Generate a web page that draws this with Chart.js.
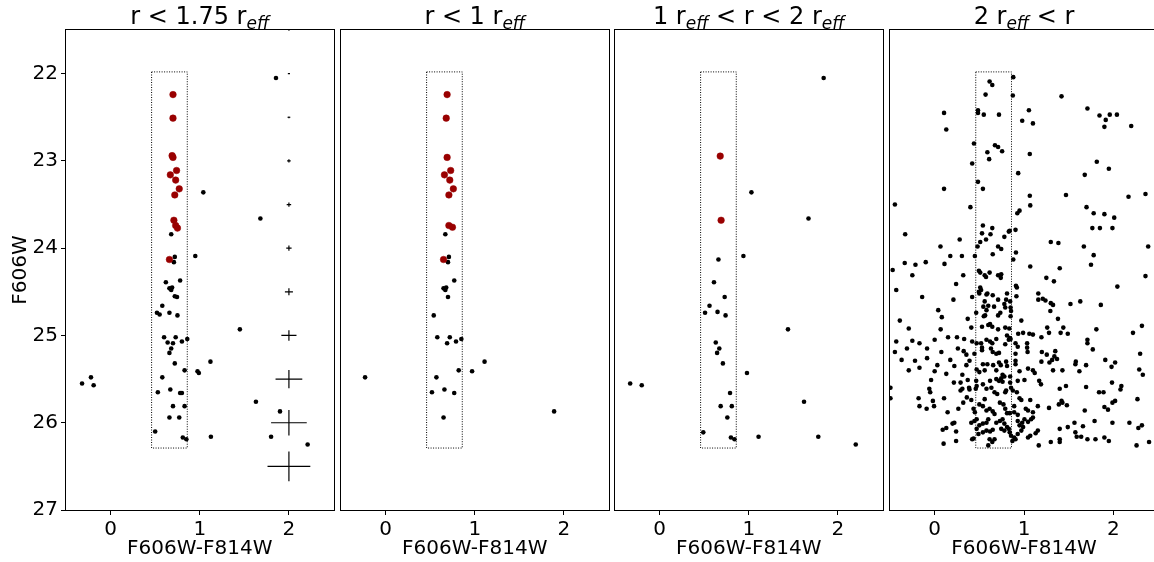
<!DOCTYPE html>
<html><head><meta charset="utf-8">
<script src="https://cdn.jsdelivr.net/npm/chart.js@4.4.1/dist/chart.umd.min.js"></script>
<style>
html,body{margin:0;padding:0;background:#fff;width:1154px;height:562px;overflow:hidden;position:relative}
canvas{position:absolute;top:0}
</style></head><body>
<script>
// ---------- data ----------
const xTicks = [0, 1, 2];
const yTicks = [22, 23, 24, 25, 26, 27];
const xLabel = 'F606W-F814W';
const yLabel = 'F606W';
const titles = [
  [['r < 1.75 r', 0], ['eff', 1]],
  [['r < 1 r', 0], ['eff', 1]],
  [['1 r', 0], ['eff', 1], [' < r < 2 r', 0], ['eff', 1]],
  [['2 r', 0], ['eff', 1], [' < r', 0]]
];
// selection box (colour range, magnitude range)
const boxX = [0.46, 0.86];
const boxY = [21.98, 26.29];
// representative error bars (panel 1, x = 2)
const errX0 = 2;
const errY  = [21.5, 22, 22.5, 23, 23.5, 24, 24.5, 25, 25.5, 26, 26.5];
const errDX = [0.01, 0.012, 0.016, 0.02, 0.025, 0.03, 0.045, 0.085, 0.15, 0.2, 0.24];
const errDY = [0.005, 0.006, 0.01, 0.018, 0.024, 0.03, 0.04, 0.06, 0.105, 0.145, 0.17];

const p1Red = [[0.70,22.24],[0.70,22.51],[0.69,22.94],[0.70,22.96],[0.74,23.11],[0.67,23.16],[0.73,23.22],[0.77,23.32],[0.72,23.39],[0.71,23.68],[0.73,23.74],[0.75,23.77],[0.66,24.13]];
const p1Black = [[1.855,22.05],[1.04,23.36],[1.68,23.66],[0.68,23.84],[0.95,24.09],[0.72,24.10],[0.71,24.16],
 [0.78,24.37],[0.62,24.39],[0.66,24.46],[0.69,24.45],[0.68,24.48],[0.72,24.55],[0.745,24.56],[0.58,24.66],[0.52,24.74],[0.55,24.76],[0.66,24.74],[0.75,24.77],[1.45,24.93],[0.60,25.02],[0.73,25.02],[0.86,25.04],[0.80,25.07],[0.64,25.08],[0.70,25.09],[0.68,25.15],[0.66,25.20],[1.12,25.30],[0.72,25.32],[0.83,25.40],[0.975,25.41],[0.99,25.43],[0.58,25.48],[-0.22,25.48],[-0.32,25.55],[-0.19,25.57],[0.53,25.65],[0.67,25.62],[0.78,25.66],[0.80,25.66],[1.63,25.76],[0.70,25.81],[0.83,25.81],[1.90,25.87],[0.66,25.94],[0.77,25.94],[0.50,26.10],[1.125,26.16],[1.80,26.16],[0.81,26.17],[0.85,26.19],[2.21,26.25]];

const p2Red = [[0.69,22.24],[0.68,22.51],[0.69,22.96],[0.73,23.11],[0.66,23.16],[0.72,23.22],[0.76,23.32],[0.71,23.39],[0.71,23.74],[0.75,23.76],[0.65,24.13]];
const p2Black = [[0.67,23.84],[0.71,24.10],[0.70,24.16],[0.77,24.37],[0.65,24.46],[0.68,24.45],[0.67,24.48],[0.70,24.56],[0.54,24.77],[0.58,25.02],[0.72,25.02],[0.85,25.04],[0.79,25.07],[0.69,25.09],[1.11,25.30],[0.82,25.40],[0.97,25.41],[-0.23,25.48],[0.57,25.48],[0.52,25.65],[0.66,25.62],[0.77,25.66],[1.89,25.87],[0.65,25.94]];

const p3Red = [[0.68,22.945],[0.69,23.68]];
const p3Black = [[1.84,22.05],[1.03,23.36],[1.67,23.66],[0.94,24.09],[0.66,24.13],[0.61,24.39],[0.73,24.56],[0.56,24.66],[0.51,24.74],[0.65,24.73],[0.74,24.77],[1.44,24.93],[0.63,25.08],[0.67,25.15],[0.645,25.20],[0.71,25.32],[0.98,25.43],[-0.33,25.55],[-0.20,25.57],[0.79,25.66],[1.62,25.76],[0.685,25.81],[0.81,25.81],[0.76,25.94],[0.49,26.11],[1.11,26.16],[1.78,26.16],[0.80,26.17],[0.84,26.19],[2.20,26.25]];

const p4Black = [
 [0.88,22.04],[0.615,22.09],[0.645,22.13],[0.57,22.24],[0.875,22.25],[1.42,22.26],[0.105,22.45],[0.485,22.42],[0.485,22.45],[0.55,22.47],[0.72,22.47],[1.055,22.42],[1.71,22.40],[1.845,22.48],[1.96,22.47],[2.04,22.47],[1.915,22.53],[1.90,22.61],[2.20,22.60],[0.98,22.54],[1.10,22.57],[0.13,22.64],[0.44,22.80],[0.675,22.82],[0.71,22.84],[0.755,22.89],[0.59,22.90],[1.065,22.92],[0.61,22.98],[0.42,23.03],[1.815,23.01],[1.95,23.09],[0.935,23.14],[1.68,23.16],[0.485,23.24],[0.105,23.32],[0.54,23.32],[1.065,23.40],[1.47,23.39],[2.17,23.41],[2.36,23.38],[-0.445,23.50],[0.40,23.53],[1.07,23.51],[1.70,23.53],
 [0.95,23.57],[0.925,23.60],[1.78,23.60],[1.90,23.61],[2.01,23.65],[0.54,23.74],[0.645,23.77],[1.765,23.77],[1.85,23.77],[1.99,23.77],[0.905,23.79],[0.84,23.80],[0.83,23.81],[-0.33,23.84],[0.53,23.83],[0.625,23.84],[0.78,23.87],[0.575,23.90],[0.28,23.90],[0.51,23.93],[1.30,23.93],[1.385,23.94],[2.39,23.98],[1.67,23.98],[0.065,23.98],[0.48,23.98],[0.71,23.98],[0.745,24.01],[0.65,24.07],[0.91,24.05],[1.78,24.08],[0.175,24.09],[0.305,24.09],[0.45,24.09],[0.88,24.13],[-0.335,24.17],[-0.215,24.19],[-0.10,24.16],[0.11,24.18],[1.75,24.19],[1.07,24.21],[1.40,24.23],[-0.47,24.25],[-0.25,24.31],[0.32,24.31],[0.495,24.26],[0.51,24.28],[0.56,24.31],[0.575,24.33],[0.615,24.28],[0.71,24.31],[0.745,24.30],[0.74,24.34],[1.25,24.34],[2.36,24.32],
 [1.335,24.38],[0.24,24.41],[0.91,24.43],[0.92,24.45],[2.045,24.44],[-0.43,24.48],[0.51,24.45],[0.495,24.50],[0.52,24.48],[0.58,24.53],[0.59,24.52],[0.50,24.52],[0.65,24.54],[0.81,24.52],[1.16,24.52],[-0.14,24.56],[0.42,24.56],[0.915,24.55],[0.21,24.59],[0.71,24.59],[0.80,24.59],[0.56,24.61],[1.16,24.59],[1.21,24.58],[1.24,24.60],[1.30,24.63],[1.325,24.65],[1.63,24.61],[1.52,24.64],[1.86,24.65],[0.845,24.61],[0.78,24.64],[0.79,24.68],[0.665,24.67],[0.545,24.67],[0.60,24.66],[0.58,24.71],[0.85,24.68],[0.855,24.72],[0.04,24.71],[1.295,24.72],[0.465,24.74],[0.735,24.74],[0.71,24.77],[0.565,24.77],[0.55,24.78],[0.08,24.79],[0.85,24.78],[0.37,24.81],[0.97,24.83],[1.38,24.81],[-0.39,24.83],[-0.29,24.92],[0.067,24.93],[0.41,24.91],[0.53,24.90],[0.60,24.88],[0.62,24.87],[0.645,24.90],[0.71,24.93],[0.79,24.91],[0.835,24.92],[1.26,24.91],[1.44,24.91],[1.81,24.93],[2.32,24.89],
 [1.41,24.97],[1.49,24.98],[2.22,24.97],[0.935,24.98],[0.99,24.97],[1.06,24.98],[1.10,24.99],[0.81,25.00],[0.84,25.03],[0.83,25.05],[0.85,25.04],[1.195,25.02],[1.28,24.97],[0.15,25.02],[0.25,25.02],[0.33,25.04],[0.00,25.05],[-0.25,25.06],[-0.43,25.07],[-0.17,25.09],[0.42,25.07],[0.47,25.09],[0.52,25.09],[0.58,25.05],[0.62,25.07],[0.645,25.09],[0.69,25.04],[0.53,25.14],[0.53,25.17],[0.63,25.15],[0.79,25.10],[0.905,25.09],[0.93,25.13],[1.035,25.09],[1.035,25.14],[1.04,25.19],[1.71,25.05],[1.71,25.09],[-0.31,25.15],[-0.085,25.15],[0.26,25.15],[-0.445,25.19],[0.075,25.19],[0.325,25.18],[0.355,25.22],[0.65,25.19],[0.69,25.21],[0.72,25.20],[0.445,25.21],[0.905,25.21],[1.20,25.19],[1.255,25.22],[1.35,25.18],[1.34,25.24],[1.37,25.27],[1.77,25.16],[2.30,25.21],[-0.37,25.28],[-0.22,25.29],[-0.085,25.26],[0.175,25.28],[0.39,25.29],[0.03,25.34],[-0.17,25.37],[0.22,25.35],[0.355,25.34],[0.54,25.33],[0.59,25.33],[0.655,25.34],[0.72,25.31],[0.74,25.34],[0.80,25.30],[0.81,25.35],[0.905,25.29],[0.905,25.33],[1.195,25.30],[1.285,25.31],[1.315,25.28],[1.58,25.30],[1.575,25.33],[1.695,25.34],[1.91,25.28],[2.02,25.31],[2.29,25.39],[-0.29,25.40],[0.00,25.41],[0.13,25.44],[0.31,25.45],[0.47,25.39],[0.50,25.42],[0.56,25.40],[0.69,25.40],[0.76,25.45],[0.78,25.47],[0.845,25.47],[0.95,25.41],[1.045,25.38],[1.10,25.40],[1.12,25.43],[1.325,25.40],[1.43,25.40],[1.62,25.41],[1.98,25.36],[2.33,25.45],
 [-0.495,25.60],[-0.495,25.72],[-0.04,25.51],[-0.06,25.61],[-0.05,25.65],[0.215,25.54],[0.29,25.54],[0.31,25.61],[0.29,25.63],[0.37,25.51],[0.385,25.60],[0.39,25.62],[0.465,25.52],[0.47,25.58],[0.46,25.61],[0.54,25.56],[0.58,25.61],[0.62,25.52],[0.635,25.60],[0.69,25.50],[0.72,25.52],[0.745,25.49],[0.76,25.53],[0.67,25.65],[0.70,25.67],[0.79,25.65],[0.80,25.63],[0.845,25.54],[0.855,25.60],[0.875,25.63],[0.92,25.65],[0.93,25.52],[1.005,25.51],[1.17,25.52],[1.19,25.56],[1.40,25.61],[1.47,25.58],[1.695,25.59],[1.84,25.65],[1.89,25.65],[1.985,25.54],[2.09,25.58],[2.08,25.62],[-0.18,25.72],[-0.02,25.75],[0.105,25.72],[-0.17,25.81],[-0.09,25.84],[-0.007,25.81],[0.145,25.88],[0.265,25.84],[0.32,25.77],[0.36,25.71],[0.41,25.74],[0.435,25.84],[0.45,25.88],[0.50,25.79],[0.54,25.81],[0.56,25.73],[0.58,25.86],[0.615,25.84],[0.65,25.87],[0.67,25.90],[0.73,25.77],[0.77,25.79],[0.79,25.84],[0.81,25.89],[0.84,25.89],[0.89,25.88],[0.93,25.91],[0.95,25.72],[0.97,25.74],[0.89,25.81],[1.02,25.84],[1.045,25.86],[1.10,25.88],[1.07,25.74],[1.155,25.81],[1.28,25.83],[1.39,25.79],[1.42,25.75],[1.43,25.77],[1.48,25.80],[1.68,25.86],[1.90,25.82],[1.94,25.85],[1.99,25.77],[2.02,25.75],[2.27,25.73],
 [0.09,26.08],[0.13,26.06],[0.22,26.00],[0.20,26.01],[0.24,26.10],[0.10,26.24],[0.24,26.21],[0.42,26.19],[0.435,26.18],[0.41,26.00],[0.445,25.98],[0.47,25.96],[0.47,26.07],[0.50,26.03],[0.54,26.01],[0.58,26.00],[0.60,25.96],[0.49,26.13],[0.54,26.11],[0.58,26.09],[0.62,26.10],[0.65,26.08],[0.615,26.19],[0.645,26.22],[0.60,26.26],[0.67,26.19],[0.69,26.00],[0.73,25.98],[0.76,25.96],[0.78,26.01],[0.745,26.07],[0.78,26.09],[0.81,26.05],[0.83,26.07],[0.84,26.11],[0.855,26.15],[0.89,26.17],[0.87,26.21],[0.905,26.19],[0.93,26.13],[0.97,26.09],[0.99,26.05],[0.95,26.03],[0.93,25.98],[0.98,26.00],[1.005,25.96],[1.045,25.99],[1.08,25.96],[1.10,25.94],[1.045,26.17],[1.07,26.15],[1.13,26.12],[1.155,26.09],[1.165,26.26],[1.30,26.22],[1.40,26.07],[1.40,26.19],[1.40,26.22],[1.49,26.05],[1.565,26.00],[1.575,26.11],[1.59,26.16],[1.66,26.04],[1.64,26.16],[1.71,26.19],[1.79,25.98],[1.80,26.19],[1.90,26.17],[1.95,26.21],[1.99,26.00],[2.18,26.00],[2.28,26.06],[2.32,26.03],[2.26,26.26],[2.40,26.22]
];
const p4Red = [];

const panelBlack = [p1Black, p2Black, p3Black, p4Black];
const panelRed = [p1Red, p2Red, p3Red, p4Red];
const panelErr = [true, false, false, false];

// ---------- layout / style ----------
const PANEL_LEFT = [66, 341, 615, 890];
const AXIS_W = 66, AREA_W = 268, RIGHT_PAD = 4, TOP = 30, XAXIS_H = 52, H = 562;
const FONT = '"DejaVu Sans", sans-serif';

const toPts = arr => arr.map(p => ({x: p[0], y: p[1]}));

function boxData() {
  return [
    {x: boxX[0], y: boxY[0]}, {x: boxX[1], y: boxY[0]},
    {x: boxX[1], y: boxY[1]}, {x: boxX[0], y: boxY[1]},
    {x: boxX[0], y: boxY[0]}
  ];
}
function errData() {
  const d = [];
  errY.forEach((y, i) => {
    d.push({x: errX0 - errDX[i], y: y}, {x: errX0 + errDX[i], y: y}, {x: errX0, y: null});
    d.push({x: errX0, y: y - errDY[i]}, {x: errX0, y: y + errDY[i]}, {x: errX0, y: null});
  });
  return d;
}

const framePlugin = {
  id: 'frame',
  afterDatasetsDraw(chart) {
    const a = chart.chartArea, ctx = chart.ctx;
    ctx.save();
    ctx.strokeStyle = '#000';
    ctx.lineWidth = 1;
    ctx.strokeRect(Math.round(a.left) - 0.5, Math.round(a.top) - 0.5,
                   Math.round(a.right) - Math.round(a.left) + 1, Math.round(a.bottom) - Math.round(a.top) + 1);
    ctx.restore();
  }
};

const titlePlugin = {
  id: 'ptitle',
  afterDraw(chart, args, opts) {
    const segs = opts.segs || [];
    const ctx = chart.ctx, a = chart.chartArea;
    const big = '24px ' + FONT, small = 'italic 17px ' + FONT;
    ctx.save();
    let total = 0;
    segs.forEach(s => { ctx.font = s[1] ? small : big; total += ctx.measureText(s[0]).width; });
    let x = (a.left + a.right) / 2 - total / 2;
    const base = 24;
    ctx.fillStyle = '#000';
    ctx.textBaseline = 'alphabetic';
    ctx.textAlign = 'left';
    segs.forEach(s => {
      ctx.font = s[1] ? small : big;
      ctx.fillText(s[0], x, s[1] ? base + 5 : base);
      x += ctx.measureText(s[0]).width;
    });
    ctx.restore();
  }
};

for (let i = 0; i < 4; i++) {
  const cv = document.createElement('canvas');
  const W = AXIS_W + AREA_W + RIGHT_PAD;
  cv.width = W; cv.height = H;
  cv.style.left = (PANEL_LEFT[i] - AXIS_W) + 'px';
  cv.style.width = W + 'px'; cv.style.height = H + 'px';
  document.body.appendChild(cv);

  const datasets = [
    {data: boxData(), showLine: true, borderColor: '#000', borderWidth: 1, borderDash: [1, 1.5],
     pointRadius: 0, fill: false, tension: 0, order: 4}
  ];
  if (panelErr[i]) {
    datasets.push({data: errData(), showLine: true, spanGaps: false, borderColor: '#000', borderWidth: 1.2,
      pointRadius: 0, fill: false, tension: 0, order: 3});
  }
  datasets.push({data: toPts(panelBlack[i]), backgroundColor: '#000', borderWidth: 0, pointRadius: 2.3, order: 2});
  datasets.push({data: toPts(panelRed[i]), backgroundColor: '#990000', borderColor: '#990000', borderWidth: 0.5, pointRadius: 3.3, order: 1});

  const tickFont = {family: FONT, size: 20};
  new Chart(cv, {
    type: 'scatter',
    data: {datasets},
    options: {
      responsive: false,
      animation: false,
      devicePixelRatio: 1,
      events: [],
      layout: {padding: {top: TOP, left: 0, right: RIGHT_PAD, bottom: 0}},
      plugins: {legend: {display: false}, tooltip: {enabled: false}, title: {display: false},
                ptitle: {segs: titles[i]}},
      scales: {
        x: {
          type: 'linear', min: -0.5, max: 2.5,
          afterBuildTicks: s => { s.ticks = xTicks.map(v => ({value: v})); },
          afterFit: s => { s.height = XAXIS_H; },
          grid: {display: true, drawOnChartArea: false, drawTicks: true, tickLength: 5, color: '#000', lineWidth: 1},
          border: {display: false},
          ticks: {color: '#000', font: tickFont, padding: 3, maxRotation: 0, autoSkip: false, callback: v => String(v)},
          title: {display: true, text: xLabel, color: '#000', font: tickFont, padding: {top: 0, bottom: 1}}
        },
        y: {
          type: 'linear', min: 21.5, max: 27, reverse: true, display: i === 0,
          afterBuildTicks: s => { s.ticks = yTicks.map(v => ({value: v})); },
          afterFit: s => { s.width = AXIS_W; },
          grid: {display: true, drawOnChartArea: false, drawTicks: true, tickLength: 5, color: '#000', lineWidth: 1},
          border: {display: false},
          ticks: {color: '#000', font: tickFont, padding: 3, autoSkip: false, callback: v => String(v)},
          title: {display: true, text: yLabel, color: '#000', font: tickFont, padding: {top: 9, bottom: 0}}
        }
      }
    },
    plugins: [framePlugin, titlePlugin]
  });
}
</script>
</body></html>
